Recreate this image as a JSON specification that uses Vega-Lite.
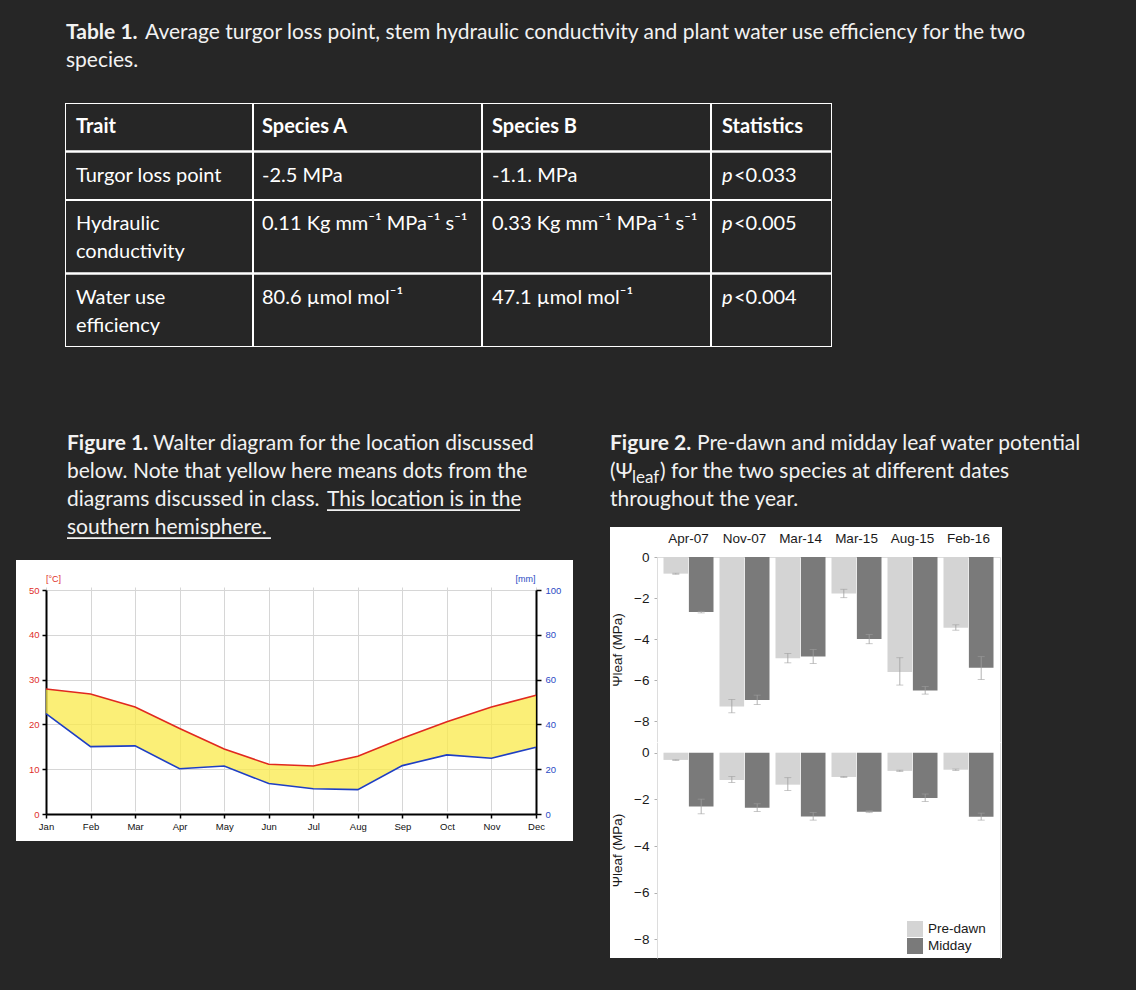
{
 "$schema": "https://vega.github.io/schema/vega-lite/v6.json",
 "background": "#262626",
 "padding": {"left": 16, "top": 19, "right": 0, "bottom": 32},
 "spacing": 83,
 "config": {"view": {"stroke": null}},
 "datasets": {
  "table": [
   {"row": "r1", "grp": 1, "hdr": true, "trait": "Trait", "a": "Species A", "b": "Species B", "stat": "Statistics"},
   {"row": "r2", "grp": 1, "hdr": false, "trait": "Turgor loss point", "a": "-2.5 MPa", "b": "-1.1. MPa", "stat": "<0.033"},
   {"row": "r3", "grp": 2, "hdr": false, "trait": "Hydraulic\nconductivity", "a": "0.11 Kg mm⁻¹ MPa⁻¹ s⁻¹", "b": "0.33 Kg mm⁻¹ MPa⁻¹ s⁻¹", "stat": "<0.005"},
   {"row": "r4", "grp": 2, "hdr": false, "trait": "Water use\nefficiency", "a": "80.6 µmol mol⁻¹", "b": "47.1 µmol mol⁻¹", "stat": "<0.004"}
  ],
  "walter": [
   {"month": "Jan", "m": 1, "temp": 27.9, "precip": 44.8},
   {"month": "Feb", "m": 2, "temp": 26.8, "precip": 30.1},
   {"month": "Mar", "m": 3, "temp": 23.9, "precip": 30.4},
   {"month": "Apr", "m": 4, "temp": 19.1, "precip": 20.2},
   {"month": "May", "m": 5, "temp": 14.5, "precip": 21.4},
   {"month": "Jun", "m": 6, "temp": 11.1, "precip": 13.6},
   {"month": "Jul", "m": 7, "temp": 10.7, "precip": 11.3},
   {"month": "Aug", "m": 8, "temp": 12.9, "precip": 10.9},
   {"month": "Sep", "m": 9, "temp": 16.9, "precip": 21.6},
   {"month": "Oct", "m": 10, "temp": 20.6, "precip": 26.4},
   {"month": "Nov", "m": 11, "temp": 23.9, "precip": 24.9},
   {"month": "Dec", "m": 12, "temp": 26.5, "precip": 29.8}
  ],
  "leaf": [
   {"panel": "upper", "date": "Apr-07", "time": "Pre-dawn", "value": -0.81, "lo": -0.84, "hi": -0.79},
   {"panel": "upper", "date": "Apr-07", "time": "Midday", "value": -2.68, "lo": -2.72, "hi": -2.64},
   {"panel": "upper", "date": "Nov-07", "time": "Pre-dawn", "value": -7.27, "lo": -7.58, "hi": -6.93},
   {"panel": "upper", "date": "Nov-07", "time": "Midday", "value": -6.96, "lo": -7.18, "hi": -6.72},
   {"panel": "upper", "date": "Mar-14", "time": "Pre-dawn", "value": -4.93, "lo": -5.15, "hi": -4.69},
   {"panel": "upper", "date": "Mar-14", "time": "Midday", "value": -4.84, "lo": -5.18, "hi": -4.5},
   {"panel": "upper", "date": "Mar-15", "time": "Pre-dawn", "value": -1.77, "lo": -1.98, "hi": -1.57},
   {"panel": "upper", "date": "Mar-15", "time": "Midday", "value": -3.99, "lo": -4.22, "hi": -3.77},
   {"panel": "upper", "date": "Aug-15", "time": "Pre-dawn", "value": -5.6, "lo": -6.23, "hi": -4.9},
   {"panel": "upper", "date": "Aug-15", "time": "Midday", "value": -6.49, "lo": -6.67, "hi": -6.3},
   {"panel": "upper", "date": "Feb-16", "time": "Pre-dawn", "value": -3.44, "lo": -3.56, "hi": -3.3},
   {"panel": "upper", "date": "Feb-16", "time": "Midday", "value": -5.39, "lo": -5.96, "hi": -4.85},
   {"panel": "lower", "date": "Apr-07", "time": "Pre-dawn", "value": -0.31, "lo": -0.33, "hi": -0.3},
   {"panel": "lower", "date": "Apr-07", "time": "Midday", "value": -2.31, "lo": -2.62, "hi": -1.99},
   {"panel": "lower", "date": "Nov-07", "time": "Pre-dawn", "value": -1.17, "lo": -1.28, "hi": -1.02},
   {"panel": "lower", "date": "Nov-07", "time": "Midday", "value": -2.36, "lo": -2.52, "hi": -2.19},
   {"panel": "lower", "date": "Mar-14", "time": "Pre-dawn", "value": -1.37, "lo": -1.62, "hi": -1.07},
   {"panel": "lower", "date": "Mar-14", "time": "Midday", "value": -2.73, "lo": -2.89, "hi": -2.56},
   {"panel": "lower", "date": "Mar-15", "time": "Pre-dawn", "value": -1.04, "lo": -1.06, "hi": -1.02},
   {"panel": "lower", "date": "Mar-15", "time": "Midday", "value": -2.53, "lo": -2.57, "hi": -2.49},
   {"panel": "lower", "date": "Aug-15", "time": "Pre-dawn", "value": -0.78, "lo": -0.81, "hi": -0.75},
   {"panel": "lower", "date": "Aug-15", "time": "Midday", "value": -1.94, "lo": -2.09, "hi": -1.77},
   {"panel": "lower", "date": "Feb-16", "time": "Pre-dawn", "value": -0.73, "lo": -0.76, "hi": -0.7},
   {"panel": "lower", "date": "Feb-16", "time": "Midday", "value": -2.75, "lo": -2.89, "hi": -2.59}
  ]
 },
 "vconcat": [
  {
   "spacing": 48,
   "hconcat": [
    {"width": 1, "height": 1, "data": {"values": []}, "mark": "point"},
    {
     "spacing": 28,
     "vconcat": [
      {
       "width": 1000, "height": 56,
       "data": {"values": [
        {"line": 1, "part": "lead", "text": "Table 1."},
        {"line": 1, "part": "body", "text": "Average turgor loss point, stem hydraulic conductivity and plant water use efficiency for the two"},
        {"line": 2, "part": "text", "text": "species."}
       ]},
       "encoding": {
        "x": {"datum": 0, "type": "quantitative", "scale": {"domain": [0, 1]}, "axis": null},
        "y": {"field": "line", "type": "ordinal", "scale": {"paddingInner": 0, "paddingOuter": 0}, "axis": null},
        "text": {"field": "text"}
       },
       "layer": [
        {"transform": [{"filter": "datum.part == 'lead'"}], "mark": {"type": "text", "align": "left", "baseline": "middle", "font": "Lato", "fontSize": 21, "fontWeight": "bold", "color": "#f2f2f2", "dx": 1}},
        {"transform": [{"filter": "datum.part == 'body'"}], "mark": {"type": "text", "align": "left", "baseline": "middle", "font": "Lato", "fontSize": 21, "color": "#f2f2f2", "dx": 80}},
        {"transform": [{"filter": "datum.part == 'text'"}], "mark": {"type": "text", "align": "left", "baseline": "middle", "font": "Lato", "fontSize": 21, "color": "#f2f2f2", "dx": 1}}
       ]
      },
      {
       "spacing": 0,
       "vconcat": [
        {
         "spacing": 0, "bounds": "flush",
         "hconcat": [
          {"width": 188, "height": 97, "clip": true, "data": {"name": "table"}, "transform": [{"filter": "datum.grp == 1"}], "layer": [
           {"mark": {"type": "rect", "fill": "#262626", "fillOpacity": 0, "stroke": "#ffffff", "strokeWidth": 2, "clip": true}, "encoding": {"y": {"field": "row", "type": "nominal", "scale": {"paddingInner": 0, "paddingOuter": 0}, "axis": null}}},
           {"transform": [{"filter": "datum.hdr"}], "mark": {"type": "text", "align": "left", "baseline": "line-top", "lineHeight": 28, "lineBreak": "\n", "dx": 11, "dy": 10, "font": "Lato", "fontSize": 20, "fontWeight": "bold", "color": "#ffffff"}, "encoding": {"x": {"datum": 0, "type": "quantitative", "scale": {"domain": [0, 1]}, "axis": null}, "y": {"field": "row", "type": "nominal", "bandPosition": 0, "axis": null}, "text": {"field": "trait"}}},
           {"transform": [{"filter": "!datum.hdr"}], "mark": {"type": "text", "align": "left", "baseline": "line-top", "lineHeight": 28, "lineBreak": "\n", "dx": 11, "dy": 10, "font": "Lato", "fontSize": 20, "color": "#ffffff"}, "encoding": {"x": {"datum": 0, "type": "quantitative", "scale": {"domain": [0, 1]}, "axis": null}, "y": {"field": "row", "type": "nominal", "bandPosition": 0, "axis": null}, "text": {"field": "trait"}}}
          ]},
          {"width": 229, "height": 97, "clip": true, "data": {"name": "table"}, "transform": [{"filter": "datum.grp == 1"}], "layer": [
           {"mark": {"type": "rect", "fill": "#262626", "fillOpacity": 0, "stroke": "#ffffff", "strokeWidth": 2, "clip": true}, "encoding": {"y": {"field": "row", "type": "nominal", "scale": {"paddingInner": 0, "paddingOuter": 0}, "axis": null}}},
           {"transform": [{"filter": "datum.hdr"}], "mark": {"type": "text", "align": "left", "baseline": "line-top", "lineHeight": 28, "lineBreak": "\n", "dx": 9, "dy": 10, "font": "Lato", "fontSize": 20, "fontWeight": "bold", "color": "#ffffff"}, "encoding": {"x": {"datum": 0, "type": "quantitative", "scale": {"domain": [0, 1]}, "axis": null}, "y": {"field": "row", "type": "nominal", "bandPosition": 0, "axis": null}, "text": {"field": "a"}}},
           {"transform": [{"filter": "!datum.hdr"}], "mark": {"type": "text", "align": "left", "baseline": "line-top", "lineHeight": 28, "lineBreak": "\n", "dx": 9, "dy": 10, "font": "Lato", "fontSize": 20, "color": "#ffffff"}, "encoding": {"x": {"datum": 0, "type": "quantitative", "scale": {"domain": [0, 1]}, "axis": null}, "y": {"field": "row", "type": "nominal", "bandPosition": 0, "axis": null}, "text": {"field": "a"}}}
          ]},
          {"width": 229, "height": 97, "clip": true, "data": {"name": "table"}, "transform": [{"filter": "datum.grp == 1"}], "layer": [
           {"mark": {"type": "rect", "fill": "#262626", "fillOpacity": 0, "stroke": "#ffffff", "strokeWidth": 2, "clip": true}, "encoding": {"y": {"field": "row", "type": "nominal", "scale": {"paddingInner": 0, "paddingOuter": 0}, "axis": null}}},
           {"transform": [{"filter": "datum.hdr"}], "mark": {"type": "text", "align": "left", "baseline": "line-top", "lineHeight": 28, "lineBreak": "\n", "dx": 10, "dy": 10, "font": "Lato", "fontSize": 20, "fontWeight": "bold", "color": "#ffffff"}, "encoding": {"x": {"datum": 0, "type": "quantitative", "scale": {"domain": [0, 1]}, "axis": null}, "y": {"field": "row", "type": "nominal", "bandPosition": 0, "axis": null}, "text": {"field": "b"}}},
           {"transform": [{"filter": "!datum.hdr"}], "mark": {"type": "text", "align": "left", "baseline": "line-top", "lineHeight": 28, "lineBreak": "\n", "dx": 10, "dy": 10, "font": "Lato", "fontSize": 20, "color": "#ffffff"}, "encoding": {"x": {"datum": 0, "type": "quantitative", "scale": {"domain": [0, 1]}, "axis": null}, "y": {"field": "row", "type": "nominal", "bandPosition": 0, "axis": null}, "text": {"field": "b"}}}
          ]},
          {"width": 121, "height": 97, "clip": true, "data": {"name": "table"}, "transform": [{"filter": "datum.grp == 1"}], "layer": [
           {"mark": {"type": "rect", "fill": "#262626", "fillOpacity": 0, "stroke": "#ffffff", "strokeWidth": 2, "clip": true}, "encoding": {"y": {"field": "row", "type": "nominal", "scale": {"paddingInner": 0, "paddingOuter": 0}, "axis": null}}},
           {"transform": [{"filter": "datum.hdr"}], "mark": {"type": "text", "align": "left", "baseline": "line-top", "lineHeight": 28, "dx": 11, "dy": 10, "font": "Lato", "fontSize": 20, "fontWeight": "bold", "color": "#ffffff"}, "encoding": {"x": {"datum": 0, "type": "quantitative", "scale": {"domain": [0, 1]}, "axis": null}, "y": {"field": "row", "type": "nominal", "bandPosition": 0, "axis": null}, "text": {"field": "stat"}}},
           {"transform": [{"filter": "!datum.hdr"}], "mark": {"type": "text", "align": "left", "baseline": "line-top", "lineHeight": 28, "dx": 11, "dy": 10, "font": "Lato", "fontSize": 20, "fontStyle": "italic", "color": "#ffffff"}, "encoding": {"x": {"datum": 0, "type": "quantitative", "scale": {"domain": [0, 1]}, "axis": null}, "y": {"field": "row", "type": "nominal", "bandPosition": 0, "axis": null}, "text": {"value": "p"}}},
           {"transform": [{"filter": "!datum.hdr"}], "mark": {"type": "text", "align": "left", "baseline": "line-top", "lineHeight": 28, "dx": 23, "dy": 10, "font": "Lato", "fontSize": 20, "color": "#ffffff"}, "encoding": {"x": {"datum": 0, "type": "quantitative", "scale": {"domain": [0, 1]}, "axis": null}, "y": {"field": "row", "type": "nominal", "bandPosition": 0, "axis": null}, "text": {"field": "stat"}}}
          ]}
         ]
        },
        {
         "spacing": 0, "bounds": "flush",
         "hconcat": [
          {"width": 188, "height": 147, "clip": true, "data": {"name": "table"}, "transform": [{"filter": "datum.grp == 2"}], "layer": [
           {"mark": {"type": "rect", "fill": "#262626", "fillOpacity": 0, "stroke": "#ffffff", "strokeWidth": 2, "clip": true}, "encoding": {"y": {"field": "row", "type": "nominal", "scale": {"paddingInner": 0, "paddingOuter": 0}, "axis": null}}},
           {"mark": {"type": "text", "align": "left", "baseline": "line-top", "lineHeight": 28, "lineBreak": "\n", "dx": 11, "dy": 10, "font": "Lato", "fontSize": 20, "color": "#ffffff"}, "encoding": {"x": {"datum": 0, "type": "quantitative", "scale": {"domain": [0, 1]}, "axis": null}, "y": {"field": "row", "type": "nominal", "bandPosition": 0, "axis": null}, "text": {"field": "trait"}}}
          ]},
          {"width": 229, "height": 147, "clip": true, "data": {"name": "table"}, "transform": [{"filter": "datum.grp == 2"}], "layer": [
           {"mark": {"type": "rect", "fill": "#262626", "fillOpacity": 0, "stroke": "#ffffff", "strokeWidth": 2, "clip": true}, "encoding": {"y": {"field": "row", "type": "nominal", "scale": {"paddingInner": 0, "paddingOuter": 0}, "axis": null}}},
           {"mark": {"type": "text", "align": "left", "baseline": "line-top", "lineHeight": 28, "lineBreak": "\n", "dx": 9, "dy": 10, "font": "Lato", "fontSize": 20, "color": "#ffffff"}, "encoding": {"x": {"datum": 0, "type": "quantitative", "scale": {"domain": [0, 1]}, "axis": null}, "y": {"field": "row", "type": "nominal", "bandPosition": 0, "axis": null}, "text": {"field": "a"}}}
          ]},
          {"width": 229, "height": 147, "clip": true, "data": {"name": "table"}, "transform": [{"filter": "datum.grp == 2"}], "layer": [
           {"mark": {"type": "rect", "fill": "#262626", "fillOpacity": 0, "stroke": "#ffffff", "strokeWidth": 2, "clip": true}, "encoding": {"y": {"field": "row", "type": "nominal", "scale": {"paddingInner": 0, "paddingOuter": 0}, "axis": null}}},
           {"mark": {"type": "text", "align": "left", "baseline": "line-top", "lineHeight": 28, "lineBreak": "\n", "dx": 10, "dy": 10, "font": "Lato", "fontSize": 20, "color": "#ffffff"}, "encoding": {"x": {"datum": 0, "type": "quantitative", "scale": {"domain": [0, 1]}, "axis": null}, "y": {"field": "row", "type": "nominal", "bandPosition": 0, "axis": null}, "text": {"field": "b"}}}
          ]},
          {"width": 121, "height": 147, "clip": true, "data": {"name": "table"}, "transform": [{"filter": "datum.grp == 2"}], "layer": [
           {"mark": {"type": "rect", "fill": "#262626", "fillOpacity": 0, "stroke": "#ffffff", "strokeWidth": 2, "clip": true}, "encoding": {"y": {"field": "row", "type": "nominal", "scale": {"paddingInner": 0, "paddingOuter": 0}, "axis": null}}},
           {"mark": {"type": "text", "align": "left", "baseline": "line-top", "lineHeight": 28, "dx": 11, "dy": 10, "font": "Lato", "fontSize": 20, "fontStyle": "italic", "color": "#ffffff"}, "encoding": {"x": {"datum": 0, "type": "quantitative", "scale": {"domain": [0, 1]}, "axis": null}, "y": {"field": "row", "type": "nominal", "bandPosition": 0, "axis": null}, "text": {"value": "p"}}},
           {"mark": {"type": "text", "align": "left", "baseline": "line-top", "lineHeight": 28, "dx": 23, "dy": 10, "font": "Lato", "fontSize": 20, "color": "#ffffff"}, "encoding": {"x": {"datum": 0, "type": "quantitative", "scale": {"domain": [0, 1]}, "axis": null}, "y": {"field": "row", "type": "nominal", "bandPosition": 0, "axis": null}, "text": {"field": "stat"}}}
          ]}
         ]
        }
       ]
      }
     ]
    }
   ]
  },
  {
   "spacing": 37,
   "hconcat": [
    {
     "spacing": 18,
     "vconcat": [
      {
       "spacing": 49,
       "hconcat": [
        {"width": 1, "height": 1, "data": {"values": []}, "mark": "point"},
        {
         "width": 490, "height": 112,
         "data": {"values": [
          {"line": 1, "part": "lead", "text": "Figure 1."},
          {"line": 1, "part": "body", "text": "Walter diagram for the location discussed"},
          {"line": 2, "part": "text", "text": "below. Note that yellow here means dots from the"},
          {"line": 3, "part": "text", "text": "diagrams discussed in class."},
          {"line": 3, "part": "underlined_end", "text": "This location is in the"},
          {"line": 4, "part": "underlined", "text": "southern hemisphere."}
         ]},
         "encoding": {
          "x": {"datum": 0, "type": "quantitative", "scale": {"domain": [0, 1]}, "axis": null},
          "y": {"field": "line", "type": "ordinal", "scale": {"paddingInner": 0, "paddingOuter": 0}, "axis": null},
          "text": {"field": "text"}
         },
         "layer": [
          {"transform": [{"filter": "datum.part == 'lead'"}], "mark": {"type": "text", "align": "left", "baseline": "middle", "font": "Lato", "fontSize": 21, "fontWeight": "bold", "color": "#f2f2f2"}},
          {"transform": [{"filter": "datum.part == 'body'"}], "mark": {"type": "text", "align": "left", "baseline": "middle", "font": "Lato", "fontSize": 21, "color": "#f2f2f2", "dx": 86}},
          {"transform": [{"filter": "datum.part == 'text' || datum.part == 'underlined'"}], "mark": {"type": "text", "align": "left", "baseline": "middle", "font": "Lato", "fontSize": 21, "color": "#f2f2f2"}},
          {"transform": [{"filter": "datum.part == 'underlined_end'"}], "mark": {"type": "text", "align": "left", "baseline": "middle", "font": "Lato", "fontSize": 21, "color": "#f2f2f2", "dx": 260}},
          {"transform": [{"filter": "datum.part == 'underlined_end'"}], "mark": {"type": "rule", "color": "#f2f2f2", "strokeWidth": 1.6},
           "encoding": {"x": {"datum": 0.5306, "type": "quantitative"}, "x2": {"datum": 0.9245}, "y": {"field": "line", "type": "ordinal", "bandPosition": 0.86, "axis": null}}},
          {"transform": [{"filter": "datum.part == 'underlined'"}], "mark": {"type": "rule", "color": "#f2f2f2", "strokeWidth": 1.6},
           "encoding": {"x": {"datum": 0, "type": "quantitative"}, "x2": {"datum": 0.4163}, "y": {"field": "line", "type": "ordinal", "bandPosition": 0.86, "axis": null}}}
         ]
        }
       ]
      },
      {
       "width": 557, "height": 281,
       "view": {"fill": "#ffffff", "stroke": null},
       "data": {"name": "walter"},
       "transform": [{"calculate": "datum.precip / 2", "as": "precip_c"}],
       "encoding": {
        "x": {"field": "m", "type": "quantitative", "scale": {"domain": [1, 12], "range": [30, 520], "nice": false, "zero": false},
         "axis": {"orient": "bottom", "offset": -27, "values": [1, 2, 3, 4, 5, 6, 7, 8, 9, 10, 11, 12],
          "labelExpr": "['Jan','Feb','Mar','Apr','May','Jun','Jul','Aug','Sep','Oct','Nov','Dec'][datum.value - 1]",
          "title": null, "grid": true, "gridColor": "#d6d6d6", "gridWidth": 1, "domainColor": "#000000", "domainWidth": 2,
          "tickColor": "#000000", "tickSize": 4, "tickWidth": 1.5, "labelFont": "Liberation Sans", "labelFontSize": 9.5,
          "labelColor": "#111111", "labelPadding": 3, "labelFlush": false, "labelOverlap": false}}
       },
       "resolve": {"axis": {"y": "independent"}},
       "layer": [
        {"mark": {"type": "area", "fill": "#f9e949", "fillOpacity": 0.75},
         "encoding": {
          "y": {"field": "temp", "type": "quantitative", "scale": {"domain": [0, 50], "range": [254, 30], "nice": false, "zero": false},
           "axis": {"orient": "left", "offset": -30, "values": [0, 10, 20, 30, 40, 50], "title": "[°C]", "titleAngle": 0, "titleX": 7, "titleY": 18,
            "titleAlign": "center", "titleBaseline": "middle", "titleColor": "#e0302a", "titleFont": "Liberation Sans", "titleFontSize": 9,
            "titleFontWeight": "normal", "labelColor": "#e0302a", "labelFont": "Liberation Sans", "labelFontSize": 9.5, "labelPadding": 3,
            "tickSize": 4, "tickColor": "#000000", "tickWidth": 1.5, "domainColor": "#000000", "domainWidth": 2, "grid": true, "gridColor": "#d6d6d6", "gridWidth": 1}},
          "y2": {"field": "precip_c"}
         }},
        {"mark": {"type": "line", "color": "#e0291f", "strokeWidth": 1.6},
         "encoding": {"y": {"field": "temp", "type": "quantitative", "axis": null}}},
        {"mark": {"type": "line", "color": "#1f3fc4", "strokeWidth": 1.6},
         "encoding": {"y": {"field": "precip_c", "type": "quantitative",
          "axis": {"orient": "right", "offset": -37, "values": [0, 10, 20, 30, 40, 50], "labelExpr": "datum.value * 2", "title": "[mm]", "titleAngle": 0,
           "titleX": -11, "titleY": 18, "titleAlign": "center", "titleBaseline": "middle", "titleColor": "#2a4bc4", "titleFont": "Liberation Sans",
           "titleFontSize": 9, "titleFontWeight": "normal", "labelColor": "#2a4bc4", "labelFont": "Liberation Sans", "labelFontSize": 9.5,
           "labelPadding": 4, "tickSize": 5, "tickColor": "#000000", "tickWidth": 1.5, "domainColor": "#000000", "domainWidth": 2, "grid": false}}}}
       ]
      }
     ]
    },
    {
     "spacing": 13,
     "vconcat": [
      {
       "width": 526, "height": 84,
       "data": {"values": [
        {"line": 1, "part": "lead", "text": "Figure 2."},
        {"line": 1, "part": "body", "text": "Pre-dawn and midday leaf water potential"},
        {"line": 2, "part": "open", "text": "(Ψ"},
        {"line": 2, "part": "sub", "text": "leaf"},
        {"line": 2, "part": "close", "text": ") for the two species at different dates"},
        {"line": 3, "part": "text", "text": "throughout the year."}
       ]},
       "encoding": {
        "x": {"datum": 0, "type": "quantitative", "scale": {"domain": [0, 1]}, "axis": null},
        "y": {"field": "line", "type": "ordinal", "scale": {"paddingInner": 0, "paddingOuter": 0}, "axis": null},
        "text": {"field": "text"}
       },
       "layer": [
        {"transform": [{"filter": "datum.part == 'lead'"}], "mark": {"type": "text", "align": "left", "baseline": "middle", "font": "Lato", "fontSize": 21, "fontWeight": "bold", "color": "#f2f2f2"}},
        {"transform": [{"filter": "datum.part == 'body'"}], "mark": {"type": "text", "align": "left", "baseline": "middle", "font": "Lato", "fontSize": 21, "color": "#f2f2f2", "dx": 87}},
        {"transform": [{"filter": "datum.part == 'open' || datum.part == 'text'"}], "mark": {"type": "text", "align": "left", "baseline": "middle", "font": "Lato", "fontSize": 21, "color": "#f2f2f2"}},
        {"transform": [{"filter": "datum.part == 'sub'"}], "mark": {"type": "text", "align": "left", "baseline": "middle", "font": "Lato", "fontSize": 17, "color": "#f2f2f2", "dx": 22, "dy": 6}},
        {"transform": [{"filter": "datum.part == 'close'"}], "mark": {"type": "text", "align": "left", "baseline": "middle", "font": "Lato", "fontSize": 21, "color": "#f2f2f2", "dx": 50}}
       ]
      },
      {
       "spacing": 0, "bounds": "flush",
       "resolve": {"scale": {"color": "independent"}, "legend": {"color": "independent"}},
       "vconcat": [
        {
         "width": 392, "height": 215,
         "view": {"fill": "#ffffff", "stroke": null},
         "data": {"name": "leaf"},
         "transform": [{"filter": "datum.panel == 'upper'"}],
         "resolve": {"axis": {"x": "independent", "y": "independent"}},
         "layer": [
          {"mark": {"type": "bar"},
           "encoding": {
            "x": {"field": "date", "type": "nominal", "sort": null, "scale": {"range": [47, 390], "paddingInner": 0.107, "paddingOuter": 0.116},
             "axis": {"orient": "top", "offset": -30, "title": null, "ticks": false, "labelAngle": 0, "labelPadding": 12, "labelFont": "Liberation Sans",
              "labelFontSize": 13.5, "labelColor": "#1a1a1a", "domainColor": "#dddddd", "domainWidth": 1}},
            "xOffset": {"field": "time", "type": "nominal", "sort": ["Pre-dawn", "Midday"], "scale": {"paddingInner": 0.03}},
            "y": {"field": "value", "type": "quantitative", "scale": {"domain": [-9, 0], "range": [215, 30], "nice": false, "zero": false},
             "axis": {"orient": "left", "offset": -47, "values": [0, -2, -4, -6, -8], "title": "Ψleaf (MPa)", "titleFont": "Liberation Sans",
              "titleFontSize": 13.5, "titleFontWeight": "normal", "titleColor": "#1a1a1a", "titlePadding": 9, "labelFont": "Liberation Sans",
              "labelFontSize": 13.5, "labelColor": "#1a1a1a", "labelPadding": 5, "tickSize": 3, "tickColor": "#b0b0b0", "domainColor": "#dddddd",
              "domainWidth": 1, "grid": false}},
            "color": {"field": "time", "type": "nominal", "scale": {"domain": ["Pre-dawn", "Midday"], "range": ["#d4d4d4", "#7a7a7a"]}, "legend": null}
           }},
          {"mark": {"type": "rule", "color": "#9e9e9e", "strokeWidth": 0.8},
           "encoding": {"x": {"field": "date", "type": "nominal", "sort": null, "axis": null}, "xOffset": {"field": "time", "type": "nominal", "sort": ["Pre-dawn", "Midday"]},
            "y": {"field": "lo", "type": "quantitative", "axis": null}, "y2": {"field": "hi"}}},
          {"mark": {"type": "tick", "color": "#9e9e9e", "size": 7, "thickness": 0.8},
           "encoding": {"x": {"field": "date", "type": "nominal", "sort": null, "axis": null}, "xOffset": {"field": "time", "type": "nominal", "sort": ["Pre-dawn", "Midday"]},
            "y": {"field": "lo", "type": "quantitative", "axis": null}}},
          {"mark": {"type": "tick", "color": "#9e9e9e", "size": 7, "thickness": 0.8},
           "encoding": {"x": {"field": "date", "type": "nominal", "sort": null, "axis": null}, "xOffset": {"field": "time", "type": "nominal", "sort": ["Pre-dawn", "Midday"]},
            "y": {"field": "hi", "type": "quantitative", "axis": null}}},
          {"mark": {"type": "bar", "opacity": 0},
           "encoding": {"x": {"field": "date", "type": "nominal", "sort": null, "axis": {"orient": "bottom", "labels": false, "ticks": false, "title": null, "domainColor": "#dddddd", "domainWidth": 1}},
            "y": {"field": "value", "type": "quantitative", "axis": {"orient": "right", "offset": -2, "labels": false, "ticks": false, "title": null, "grid": false, "domainColor": "#dddddd", "domainWidth": 1}}}}
         ]
        },
        {
         "width": 392, "height": 216,
         "view": {"fill": "#ffffff", "stroke": null},
         "data": {"name": "leaf"},
         "transform": [{"filter": "datum.panel == 'lower'"}],
         "resolve": {"axis": {"x": "independent", "y": "independent"}},
         "layer": [
          {"mark": {"type": "bar"},
           "encoding": {
            "x": {"field": "date", "type": "nominal", "sort": null, "scale": {"range": [47, 390], "paddingInner": 0.107, "paddingOuter": 0.116}, "axis": null},
            "xOffset": {"field": "time", "type": "nominal", "sort": ["Pre-dawn", "Midday"], "scale": {"paddingInner": 0.03}},
            "y": {"field": "value", "type": "quantitative", "scale": {"domain": [-8.8, 0.45], "range": [216, 0.2], "nice": false, "zero": false},
             "axis": {"orient": "left", "offset": -47, "values": [0, -2, -4, -6, -8], "title": "Ψleaf (MPa)", "titleFont": "Liberation Sans",
              "titleFontSize": 13.5, "titleFontWeight": "normal", "titleColor": "#1a1a1a", "titlePadding": 9, "labelFont": "Liberation Sans",
              "labelFontSize": 13.5, "labelColor": "#1a1a1a", "labelPadding": 5, "tickSize": 3, "tickColor": "#b0b0b0", "domainColor": "#dddddd",
              "domainWidth": 1, "grid": false}},
            "color": {"field": "time", "type": "nominal", "scale": {"domain": ["Pre-dawn", "Midday"], "range": ["#d4d4d4", "#7a7a7a"]},
             "legend": {"orient": "none", "legendX": 297, "legendY": 179, "title": null, "symbolType": "square", "symbolSize": 256, "symbolStrokeWidth": 0,
              "labelFont": "Liberation Sans", "labelFontSize": 13.5, "labelColor": "#1a1a1a", "labelOffset": 5, "rowPadding": 1, "padding": 0}}
           }},
          {"mark": {"type": "rule", "color": "#9e9e9e", "strokeWidth": 0.8},
           "encoding": {"x": {"field": "date", "type": "nominal", "sort": null, "axis": null}, "xOffset": {"field": "time", "type": "nominal", "sort": ["Pre-dawn", "Midday"]},
            "y": {"field": "lo", "type": "quantitative", "axis": null}, "y2": {"field": "hi"}}},
          {"mark": {"type": "tick", "color": "#9e9e9e", "size": 7, "thickness": 0.8},
           "encoding": {"x": {"field": "date", "type": "nominal", "sort": null, "axis": null}, "xOffset": {"field": "time", "type": "nominal", "sort": ["Pre-dawn", "Midday"]},
            "y": {"field": "lo", "type": "quantitative", "axis": null}}},
          {"mark": {"type": "tick", "color": "#9e9e9e", "size": 7, "thickness": 0.8},
           "encoding": {"x": {"field": "date", "type": "nominal", "sort": null, "axis": null}, "xOffset": {"field": "time", "type": "nominal", "sort": ["Pre-dawn", "Midday"]},
            "y": {"field": "hi", "type": "quantitative", "axis": null}}},
          {"mark": {"type": "bar", "opacity": 0},
           "encoding": {"x": {"field": "date", "type": "nominal", "sort": null, "axis": null},
            "y": {"field": "value", "type": "quantitative", "axis": {"orient": "right", "offset": -2, "labels": false, "ticks": false, "title": null, "grid": false, "domainColor": "#dddddd", "domainWidth": 1}}}}
         ]
        }
       ]
      }
     ]
    }
   ]
  }
 ]
}
